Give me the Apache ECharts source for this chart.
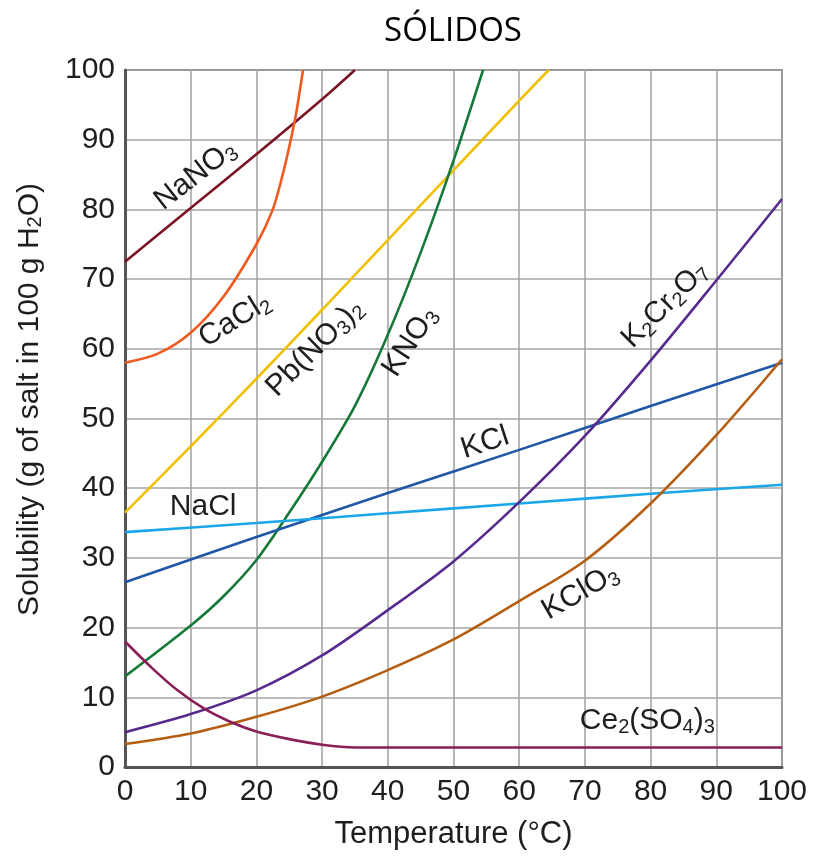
<!DOCTYPE html>
<html><head><meta charset="utf-8">
<script src="https://cdn.jsdelivr.net/npm/echarts@6/dist/echarts.min.js"></script>
<style>html,body{margin:0;padding:0;background:#fff}#c{width:815px;height:856px}</style>
</head><body><div id="c"></div>
<script>
const xTicks = [0,10,20,30,40,50,60,70,80,90,100];
const yTicks = [0,10,20,30,40,50,60,70,80,90,100];
const NaNO3 = [[0,72.5],[10,80.2],[20,87.9],[30,95.8],[35,100]];
const CaCl2 = [[0,58],[5,59.3],[10,62.3],[15,67.5],[20,75],[22.5,80],[24,85],[25,89],[26,93.5],[26.6,97],[27.1,100]];
const PbNO32 = [[0,36.5],[10,46],[20,55.7],[30,65.6],[40,75.6],[50,85.6],[60,95.6],[64.5,100]];
const KNO3 = [[0,13],[10,20.3],[15,24.5],[20,29.7],[25,36.5],[30,43.8],[35,51.8],[40,62],[45,73.8],[50,87],[54.5,100]];
const KCl = [[0,26.5],[20,33],[40,39.3],[60,45.5],[80,51.8],[100,58]];
const NaCl = [[0,33.7],[20,35],[40,36.4],[60,37.8],[80,39.2],[100,40.5]];
const K2Cr2O7 = [[0,5],[10,7.6],[20,11],[30,16],[40,22.5],[50,29.5],[60,38],[70,47.5],[80,58.3],[90,69.8],[100,81.5]];
const KClO3 = [[0,3.3],[10,4.8],[20,7.2],[30,10.1],[40,13.9],[50,18.3],[60,23.8],[70,29.6],[80,37.8],[90,47.6],[100,58.5]];
const Ce2SO43 = [[0,18],[4,14.3],[8,11],[12,8.4],[16,6.5],[20,5.1],[25,4],[30,3.2],[35,2.8],[50,2.8],[75,2.8],[100,2.8]];
// label text, x, y, rotation
const curveLabels = [
  ['NaNO{s|3}', 10.7, 84.9, 38],
  ['CaCl{s|2}', 16.7, 64.1, 32],
  ['Pb(NO{s|3}){s|2}', 28.9, 60.1, 45],
  ['KNO{s|3}', 43.4, 61, 57],
  ['KCl', 54.8, 46.5, 18],
  ['NaCl', 11.9, 37.4, 0],
  ['K{s|2}Cr{s|2}O{s|7}', 82.2, 66.3, 45],
  ['KClO{s|3}', 69.3, 25.1, 30],
  ['Ce{s|2}(SO{s|4}){s|3}', 79.5, 6.7, 0]
];
const seriesDefs = [
  ['NaNO3', NaNO3, '#7a1424'],
  ['CaCl2', CaCl2, '#ef5a1f'],
  ['Pb(NO3)2', PbNO32, '#f0c000'],
  ['KNO3', KNO3, '#16793a'],
  ['KCl', KCl, '#1f58a6'],
  ['NaCl', NaCl, '#1aa6e8'],
  ['K2Cr2O7', K2Cr2O7, '#572a8e'],
  ['KClO3', KClO3, '#b55e12'],
  ['Ce2(SO4)3', Ce2SO43, '#8a1e56']
];
const FONT = 'Liberation Sans, Arial, sans-serif';
const TXT = '#1e1e1e';
const rich = {
  b: {fontSize: 30, fontFamily: FONT, color: TXT, lineHeight: 34, textBorderWidth: 0},
  s: {fontSize: 20, fontFamily: FONT, color: TXT, lineHeight: 16, verticalAlign: 'bottom', textBorderWidth: 0}
};
const series = seriesDefs.map(([n, d, c]) => ({
  name: n, type: 'line', data: d, smooth: 0.3, showSymbol: false,
  lineStyle: {color: c, width: 2.6}, z: 3
}));
series.push({
  type: 'scatter', symbolSize: 0, z: 5, silent: true,
  data: curveLabels.map(l => ({value: [l[1], l[2]], label: {
    show: true, position: 'inside', rotate: l[3], color: TXT, textBorderWidth: 0, opacity: 1,
    formatter: l[0].replace(/^([^{]*)/, '{b|$1}').replace(/\}([^{}]+)(?=\{|$)/g, '}{b|$1}'),
    rich: rich
  }}))
});
const chart = echarts.init(document.getElementById('c'));
chart.setOption({
  animation: false,
  title: {text: 'SÓLIDOS', left: 448, textAlign: 'center', top: 10,
    textStyle: {fontFamily: 'Open Sans', fontSize: 33, fontWeight: 'normal', color: '#000'}},
  grid: {left: 125, right: 33, top: 70, bottom: 89, show: true, borderColor: '#777', borderWidth: 2},
  xAxis: {type: 'value', min: 0, max: 100, interval: 10,
    name: 'Temperature (°C)', nameLocation: 'middle', nameGap: 52,
    nameTextStyle: {fontFamily: FONT, fontSize: 31, color: TXT},
    axisLine: {lineStyle: {color: '#555', width: 3}},
    axisTick: {show: false},
    axisLabel: {fontFamily: FONT, fontSize: 30, color: TXT, margin: 10,
      formatter: v => xTicks.includes(v) ? String(v) : ''},
    splitLine: {lineStyle: {color: '#a5a5a5', width: 1.6}}},
  yAxis: {type: 'value', min: 0, max: 100, interval: 10,
    name: 'Solubility (g of salt in 100 g H{s|2}O)', nameLocation: 'middle', nameGap: 80,
    nameTextStyle: {fontFamily: FONT, fontSize: 30, color: TXT, padding: [0, 0, 0, 38], rich: {
      s: {fontSize: 20, fontFamily: FONT, color: TXT, lineHeight: 16, verticalAlign: 'bottom'}}},
    axisLine: {show: true, lineStyle: {color: '#555', width: 3}},
    axisTick: {show: false},
    axisLabel: {fontFamily: FONT, fontSize: 30, color: TXT, margin: 10,
      formatter: v => yTicks.includes(v) ? String(v) : ''},
    splitLine: {lineStyle: {color: '#a5a5a5', width: 1.6}}},
  series: series
});
</script></body></html>
